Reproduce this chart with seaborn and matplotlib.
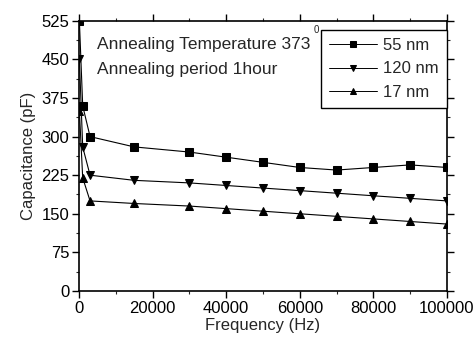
import matplotlib
matplotlib.use("Agg")
import matplotlib.pyplot as plt
import seaborn as sns
import pandas as pd
from matplotlib.ticker import MultipleLocator

freq = [100, 1000, 3000, 15000, 30000, 40000, 50000, 60000, 70000, 80000, 90000, 100000]
cap_55 = [525, 360, 300, 280, 270, 260, 250, 240, 235, 240, 245, 240]
cap_120 = [450, 280, 225, 215, 210, 205, 200, 195, 190, 185, 180, 175]
cap_17 = [350, 220, 175, 170, 165, 160, 155, 150, 145, 140, 135, 130]
series_names = ["55 nm", "120 nm", "17 nm"]
x_ticks = [0, 20000, 40000, 60000, 80000, 100000]
y_ticks = [0, 75, 150, 225, 300, 375, 450, 525]

rows = []
for name, vals in zip(series_names, [cap_55, cap_120, cap_17]):
    for f, v in zip(freq, vals):
        rows.append({"Frequency": f, "Capacitance": v, "Sample": name})
df = pd.DataFrame(rows)

sns.set_theme(style="ticks")
plt.rcParams["font.family"] = ["Liberation Sans", "DejaVu Sans"]

fig = plt.figure(figsize=(4.76, 3.48), dpi=100)
ax = fig.add_axes([0.166, 0.164, 0.773, 0.776])

sns.lineplot(data=df, x="Frequency", y="Capacitance", hue="Sample", style="Sample",
             hue_order=series_names, style_order=series_names,
             palette=["black"] * 3, markers={"55 nm": "s", "120 nm": "v", "17 nm": "^"},
             dashes=False, markersize=5.5, linewidth=0.8, markeredgecolor="black",
             ax=ax, legend=True)

ax.set_xlim(0, 100000)
ax.set_ylim(0, 525)
ax.set_xticks(x_ticks)
ax.set_yticks(y_ticks)
ax.xaxis.set_minor_locator(MultipleLocator(10000))
ax.yaxis.set_minor_locator(MultipleLocator(37.5))
ax.tick_params(axis="both", which="major", direction="out", length=5, width=1,
               labelsize=12, colors="black", top=True, right=True, pad=2)
ax.tick_params(axis="both", which="minor", direction="out", length=2, width=0.8,
               top=True, right=True)
for s in ax.spines.values():
    s.set_linewidth(1.2)
    s.set_color("black")
ax.set_xlabel("Frequency (Hz)", fontsize=12, labelpad=2)
ax.set_ylabel("Capacitance (pF)", fontsize=12, labelpad=4)

handles, labels = ax.get_legend_handles_labels()
for h in handles:
    h.set_markersize(5)
    h.set_linewidth(0.7)
leg = ax.legend(handles, labels, loc="upper right", bbox_to_anchor=(1.0, 0.967),
                borderaxespad=0, fontsize=12, frameon=True, fancybox=False,
                handlelength=2.9, handletextpad=0.35, labelspacing=0.5, borderpad=0.5)
leg.get_frame().set_edgecolor("black")
leg.get_frame().set_linewidth(1.0)
leg.get_frame().set_alpha(1)

ax.text(0.049, 0.911, "Annealing Temperature 373", transform=ax.transAxes,
        fontsize=12.5, va="center", ha="left")
ax.text(0.049, 0.819, "Annealing period 1hour", transform=ax.transAxes,
        fontsize=12.5, va="center", ha="left")
ax.text(0.645, 0.967, "0", transform=ax.transAxes, fontsize=7, va="center", ha="center")

fig.savefig("out.png", dpi=100)
